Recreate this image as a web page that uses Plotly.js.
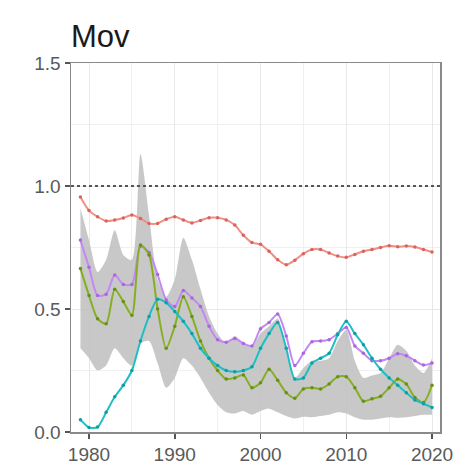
<!DOCTYPE html>
<html>
<head>
<meta charset="utf-8">
<script src="https://cdn.plot.ly/plotly-3.0.1.min.js"></script>
<style>
  html, body { margin: 0; padding: 0; background: #ffffff; }
  #chart { width: 457px; height: 474px; }
</style>
</head>
<body>
<div id="chart"></div>
<script>
// Annual values, 1979-2020
const years = [];
for (let y = 1979; y <= 2020; y++) years.push(y);

const redSeries = [0.955, 0.90, 0.875, 0.858, 0.862, 0.87, 0.882, 0.868, 0.848, 0.848,
  0.865, 0.875, 0.862, 0.85, 0.86, 0.871, 0.871, 0.862, 0.841, 0.80,
  0.77, 0.763, 0.735, 0.70, 0.68, 0.698, 0.725, 0.742, 0.742, 0.728,
  0.715, 0.71, 0.722, 0.735, 0.742, 0.75, 0.757, 0.753, 0.756, 0.752,
  0.742, 0.732];

const purpleSeries = [0.78, 0.67, 0.555, 0.56, 0.638, 0.60, 0.60, 0.755, 0.73, 0.64,
  0.537, 0.51, 0.575, 0.545, 0.51, 0.43, 0.375, 0.365, 0.38, 0.36,
  0.35, 0.42, 0.445, 0.48, 0.39, 0.27, 0.32, 0.367, 0.37, 0.375,
  0.40, 0.425, 0.35, 0.32, 0.29, 0.29, 0.30, 0.318, 0.31, 0.29,
  0.272, 0.28];

const greenSeries = [0.665, 0.555, 0.46, 0.44, 0.58, 0.53, 0.475, 0.76, 0.72, 0.50,
  0.34, 0.43, 0.55, 0.47, 0.37, 0.30, 0.25, 0.215, 0.22, 0.232,
  0.18, 0.20, 0.255, 0.21, 0.16, 0.137, 0.175, 0.18, 0.175, 0.195,
  0.225, 0.225, 0.18, 0.125, 0.135, 0.145, 0.18, 0.215, 0.195, 0.14,
  0.12, 0.19];

const cyanSeries = [0.05, 0.018, 0.02, 0.08, 0.143, 0.19, 0.25, 0.37, 0.47, 0.54,
  0.525, 0.49, 0.45, 0.40, 0.34, 0.30, 0.27, 0.25, 0.245, 0.25,
  0.265, 0.34, 0.40, 0.445, 0.34, 0.215, 0.22, 0.28, 0.30, 0.32,
  0.395, 0.45, 0.40, 0.355, 0.30, 0.255, 0.22, 0.19, 0.16, 0.13,
  0.115, 0.10];

const bandUpper = [0.91, 0.78, 0.65, 0.70, 0.82, 0.72, 0.70, 1.13, 0.88, 0.62,
  0.55, 0.62, 0.79, 0.70, 0.58, 0.47, 0.40, 0.36, 0.39, 0.36,
  0.35, 0.40, 0.43, 0.46, 0.34, 0.22, 0.26, 0.29, 0.29, 0.30,
  0.37, 0.415, 0.29, 0.22, 0.23, 0.24, 0.30, 0.355, 0.33, 0.27,
  0.24, 0.30];

const bandLower = [0.34, 0.30, 0.25, 0.27, 0.34, 0.30, 0.27, 0.36, 0.37, 0.28,
  0.18, 0.22, 0.30, 0.27, 0.22, 0.16, 0.11, 0.08, 0.075, 0.085,
  0.07, 0.085, 0.095, 0.08, 0.065, 0.055, 0.062, 0.06, 0.065, 0.07,
  0.08, 0.075, 0.06, 0.05, 0.05, 0.055, 0.06, 0.058, 0.06, 0.065,
  0.07, 0.07];

const xTicks = [1980, 1990, 2000, 2010, 2020];
const yTicks = [0, 0.5, 1.0, 1.5];
const yTickText = ['0.0', '0.5', '1.0', '1.5'];

function seriesTrace(values, lineColor, dotColor) {
  return {
    x: years, y: values, type: 'scatter', mode: 'lines+markers',
    line: { color: lineColor, width: 2, shape: 'spline', smoothing: 0.7 },
    marker: { color: dotColor, size: 3.5 },
    hoverinfo: 'skip', showlegend: false
  };
}

const traces = [
  { x: years, y: bandLower, type: 'scatter', mode: 'lines',
    line: { width: 0, shape: 'spline', smoothing: 0.7 },
    hoverinfo: 'skip', showlegend: false },
  { x: years, y: bandUpper, type: 'scatter', mode: 'lines',
    line: { width: 0, shape: 'spline', smoothing: 0.7 },
    fill: 'tonexty', fillcolor: 'rgba(190,190,190,0.85)',
    hoverinfo: 'skip', showlegend: false },
  seriesTrace(redSeries, '#ef8f88', '#d9645d'),
  seriesTrace(purpleSeries, '#c487f5', '#a967dd'),
  seriesTrace(greenSeries, '#86ae22', '#66901a'),
  seriesTrace(cyanSeries, '#1dbfc4', '#0f9ea3')
];

const layout = {
  width: 457, height: 474,
  margin: { l: 71, r: 17, t: 63, b: 42 },
  paper_bgcolor: '#ffffff', plot_bgcolor: '#ffffff',
  font: { family: 'Liberation Sans, Arial, sans-serif', color: '#555555' },
  title: {
    text: 'Mov', font: { size: 31, color: '#1a1a1a' },
    x: 0, xref: 'paper', xanchor: 'left',
    y: 0.924, yref: 'container', yanchor: 'middle'
  },
  xaxis: {
    range: [1977.9, 2020.93],
    tickvals: xTicks, ticktext: xTicks.map(String),
    ticks: 'outside', ticklen: 5, tickwidth: 1.5, tickcolor: '#555555',
    tickfont: { size: 19, color: '#5a5a5a' },
    showgrid: true, gridcolor: '#e8e8e8', gridwidth: 1,
    minor: { dtick: 5, tick0: 1975, showgrid: true, gridcolor: '#f0f0f0', gridwidth: 1, ticks: '' },
    showline: true, linecolor: '#8a8a8a', linewidth: 1.5, mirror: true,
    zeroline: false, fixedrange: true
  },
  yaxis: {
    range: [0, 1.5],
    tickvals: yTicks, ticktext: yTickText,
    ticks: 'outside', ticklen: 5, tickwidth: 1.5, tickcolor: '#555555',
    tickfont: { size: 19, color: '#5a5a5a' },
    showgrid: true, gridcolor: '#e8e8e8', gridwidth: 1,
    minor: { dtick: 0.25, tick0: 0, showgrid: true, gridcolor: '#f0f0f0', gridwidth: 1, ticks: '' },
    showline: true, linecolor: '#8a8a8a', linewidth: 1.5, mirror: true,
    zeroline: false, fixedrange: true
  },
  shapes: [
    { type: 'line', xref: 'paper', x0: 0, x1: 1, yref: 'y', y0: 1.0, y1: 1.0,
      line: { color: '#555555', width: 2, dash: '3px,3px' } }
  ]
};

Plotly.newPlot('chart', traces, layout, { staticPlot: true, displayModeBar: false });
</script>
</body>
</html>
